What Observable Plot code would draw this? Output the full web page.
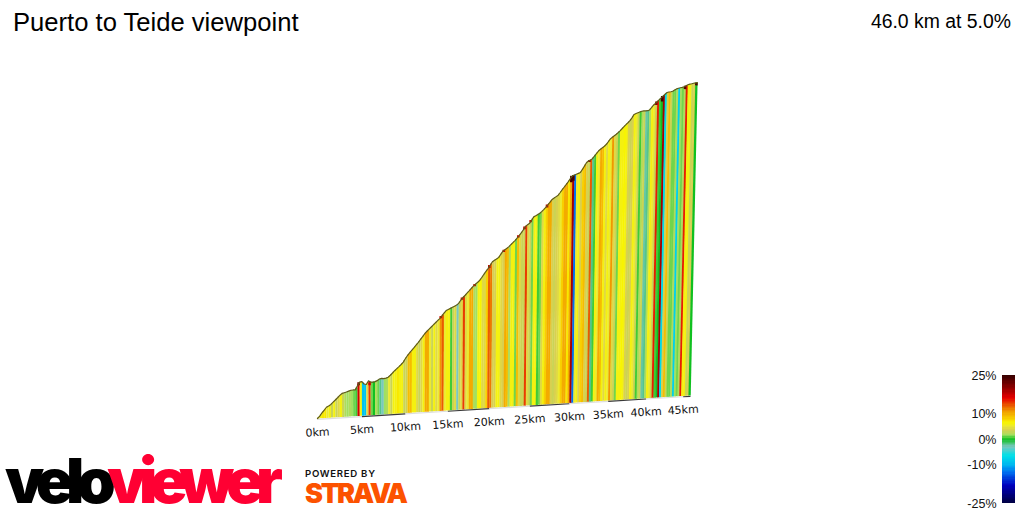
<!DOCTYPE html>
<html><head><meta charset="utf-8">
<script src="https://cdn.jsdelivr.net/npm/d3@7"></script>
<script src="https://cdn.jsdelivr.net/npm/@observablehq/plot@0.6"></script>
<style>
html,body{margin:0;padding:0;background:#fff;width:1024px;height:512px;overflow:hidden}
#wrap{position:relative;width:1024px;height:512px}
#wrap>*{position:absolute}
#title{left:13px;top:8px;font:25.6px "Liberation Sans",Arial,sans-serif;color:#000;white-space:nowrap}
#stat{right:13px;top:10px;font:19.4px "Liberation Sans",Arial,sans-serif;color:#000;white-space:nowrap}
#chart{left:0;top:0}
#legend{left:950px;top:360px}
#logo{left:0;top:432px}
</style></head><body>
<div id="wrap">
<div id="chart"></div>
<div id="title">Puerto to Teide viewpoint</div>
<div id="stat">46.0 km at 5.0%</div>
<div id="legend"></div>
<svg id="logo" width="420" height="80" viewBox="0 432 420 80" xmlns="http://www.w3.org/2000/svg">
<text x="5" y="503" font-family="Inter" font-weight="900" font-size="62" style="letter-spacing:-7.4px"><tspan fill="#000">velo</tspan><tspan fill="#ff0033">viewer</tspan></text>
<text x="305" y="477" font-family="Inter" font-weight="600" font-size="9.6" textLength="70" fill="#111">POWERED BY</text>
<text x="305" y="503" font-family="Inter" font-weight="900" font-size="27" textLength="103" fill="#fc5200">STRAVA</text>
</svg>
</div>
<script>
// Elevation gain (m) every 0.25 km
const elevation = [0,15,35,52,71,79,88,102,116,130,145,157,161,165,170,175,176,176,203,226,229,212,208,232,222,222,224,230,240,244,241,244,249,262,276,291,304,317,331,346,370,390,408,425,442,459,476,495,514,533,549,563,577,591,605,619,632,650,668,686,693,700,707,714,721,734,755,772,787,803,818,834,850,862,874,888,908,929,950,969,991,1014,1024,1033,1042,1064,1085,1096,1106,1117,1132,1146,1160,1178,1195,1213,1234,1257,1268,1279,1301,1323,1331,1340,1348,1361,1375,1391,1409,1427,1445,1455,1465,1475,1494,1514,1533,1552,1571,1592,1612,1618,1624,1630,1636,1658,1682,1706,1719,1726,1735,1754,1772,1790,1803,1814,1825,1839,1858,1878,1890,1901,1912,1925,1939,1954,1969,1984,1998,2013,2034,2057,2064,2070,2076,2081,2084,2085,2086,2092,2109,2127,2141,2154,2168,2182,2196,2209,2222,2226,2228,2232,2241,2250,2255,2259,2262,2267,2275,2283,2288,2291,2295,2298,2300];
// Gradient (%) of each 0.25 km stripe
const gradient = [6,6,7,7,5,6,3,6,3,4,6,3,2,1.5,2,1.5,1,0.5,17,6,-9,-9,4,14,1,0,2,1,-2,-3,1.5,2,5,3,6,6,7,6,6,3,3,9,9,6,6,4,3,4,6,10,10,5,3,6,4,5,11,13,5,6,6,0.5,3,4,-3,3,4,14,4,5,10,10,2,1.5,6,6.5,4,4,8,13,12,3.5,3.5,6,6,4,3.5,10,9,2,6,6,1,9,4,3,3,14,4,3,1,6,6,0.5,1,4,6,8,10,10,3.5,3,3.5,4,5,8,10,10,7,10,19,-13,5,6,3.5,8,9,3.5,3,13,-2,0.5,6,5,10,9,6,4,6,5,11,4,3,1,6,6,6.5,6,3.5,3,3.5,6,5,3,0.5,2,3,-2.5,-2,2,6,5,3,15,0.5,0,19,-7,3.5,9,3,1,1,2,-8,1.5,1,2,15,6,6,3,3.5,0];
// Steep dark tips along the outline: km and how far each runs down (m)
const tipKm = [4.5,5.75,14,16.5,18,19.75,21.5,23.25,24,24.75,26.75,29.75,30,32,40.5,41.25,44.25,45.75];
const tipDrop = [20,20,15,15,15,20,15,15,20,15,20,45,40,15,25,40,25,20];
const tipGrade = [21,17,17,17,17,18,17,17,18,17,18,24,24,19,20,24,23,24];
const kmStep = 0.25;
const tickKm = [0,5,10,15,20,25,30,35,40,45];
const baseBands = [[0,5,"light"],[5,10,"dark"],[10,15,"light"],[15,20,"dark"],[20,25,"light"],[25,30,"dark"],[30,35,"light"],[35,40,"dark"],[40,45,"light"],[45,46,"dark"]];
const legendTicks = [25,10,0,-10,-25];
const colorStops = [-25,-18,-13,-10,-6.5,-3,0,1.5,3.5,5,6.5,8,11,13,16,20,25];
const colorRange = ["#000040","#0000c0","#0070f0","#00b8f0","#00e0e8","#78c8c0","#10c020","#a0e060","#d8d050","#ecea30","#f8f400","#f8d000","#f09800","#ea5a00","#e60000","#900000","#330000"];

// Slight perspective of the original 3D view
const depth = km => 1 + 0.0024 * km;
const px = (km, m) => { const u = km / depth(km); return u + 1.12e-5 * (u - 8.6) * (m / depth(km)); };
const py = (km, m) => m / depth(km) + 3.68 * (km / depth(km));

const stripes = gradient.map((g, i) => ({km: (i + 0.5) * kmStep, top: (elevation[i] + elevation[i + 1]) / 2, g}));
const outline = elevation.map((m, i) => ({km: i * kmStep, m}));
const tips = tipKm.map((km, i) => {
  const top = elevation[Math.round(km / kmStep) + 1];
  return {km: km + kmStep / 2, top, bottom: top - tipDrop[i], g: tipGrade[i]};
});
const color = {type: "linear", domain: colorStops, range: colorRange, interpolate: "rgb"};

document.getElementById("chart").append(Plot.plot({
  width: 1024, height: 512, margin: 0,
  style: {background: "transparent"},
  x: {domain: [0, 46 / depth(46)], range: [317, 690], axis: null},
  y: {domain: [0, 2768], range: [418, 0], axis: null},
  color,
  marks: [
    Plot.link(stripes, {
      x1: d => px(d.km, 0), y1: d => py(d.km, 0),
      x2: d => px(d.km, d.top), y2: d => py(d.km, d.top),
      stroke: "g", strokeWidth: 2.3
    }),
    Plot.link(tips, {
      x1: d => px(d.km, d.bottom), y1: d => py(d.km, d.bottom),
      x2: d => px(d.km, d.top), y2: d => py(d.km, d.top),
      stroke: "g", strokeWidth: 2.6
    }),
    Plot.link(baseBands, {
      x1: d => px(d[0], 0), y1: d => py(d[0], 0),
      x2: d => px(d[1], 0), y2: d => py(d[1], 0),
      stroke: d => d[2] === "dark" ? "#3a3a3a" : "#dddddd", strokeWidth: 1.2, dy: 0.8
    }),
    Plot.line(outline, {
      x: d => px(d.km, d.m), y: d => py(d.km, d.m),
      stroke: "#5e5a18", strokeWidth: 1.2, curve: "linear"
    }),
    Plot.text(tickKm, {
      x: d => px(d, 0), y: d => py(d, 0), text: d => `${d}km`,
      dy: 14, rotate: -3.5, fontSize: 11, fontFamily: "DejaVu Sans", fill: "#111"
    })
  ]
}));

const ramp = d3.range(-25, 25, 0.5);
document.getElementById("legend").append(Plot.plot({
  width: 74, height: 150,
  marginLeft: 52, marginRight: 9, marginTop: 15, marginBottom: 7,
  style: {background: "transparent", overflow: "visible"},
  x: {axis: null, domain: [0, 1]},
  y: {domain: [-25, 25], axis: null},
  color,
  marks: [
    Plot.rectY(ramp, {x1: 0, x2: 1, y1: d => d, y2: d => d + 0.5, fill: d => d + 0.25, shapeRendering: "crispEdges"}),
    Plot.axisY(legendTicks, {tickSize: 0, tickPadding: 6, tickFormat: d => `${d}%`, label: null, fontSize: 12.5, fontFamily: "Liberation Sans", fill: "#111"})
  ]
}));
</script>
</body></html>
